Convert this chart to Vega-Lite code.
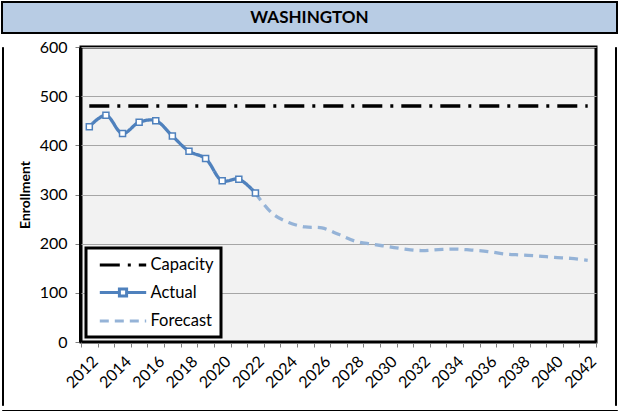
{
  "$schema": "https://vega.github.io/schema/vega-lite/v6.json",
  "background": "white",
  "padding": {"left": 1, "top": 1, "right": 0, "bottom": 0},
  "config": {"font": "Lato", "axis": {"labelFont": "Lato", "titleFont": "Lato"}, "legend": {"labelFont": "Lato"}},
  "spacing": 3,
  "resolve": {"legend": {"color": "independent", "strokeDash": "independent"}, "scale": {"color": "independent", "strokeDash": "independent"}},
  "vconcat": [
    {
      "width": 615,
      "height": 31,
      "view": {"fill": "#B8CCE4", "stroke": "black", "strokeWidth": 2},
      "data": {"values": [{"t": "WASHINGTON"}]},
      "mark": {"type": "text", "fontWeight": "bold", "fontSize": 17, "font": "Lato", "color": "black"},
      "encoding": {"text": {"field": "t", "type": "nominal"}}
    },
    {
      "columns": 3,
      "align": "none",
      "spacing": 13,
      "resolve": {"legend": {"color": "independent", "strokeDash": "independent"}, "scale": {"color": "independent", "strokeDash": "independent"}},
      "concat": [
        {
          "width": 1,
          "height": 358,
          "view": {"fill": "black", "stroke": "black", "strokeWidth": 1},
          "data": {"values": [{"k": 0}]},
          "mark": {"type": "point", "size": 1, "opacity": 0}
        },
        {
          "width": 515,
          "height": 295,
          "view": {"fill": "#F2F2F2", "stroke": "black", "strokeWidth": 3},
          "data": {"values": [
            {"year": "2012", "series": "Capacity", "value": 480},
            {"year": "2042", "series": "Capacity", "value": 480},
            {"year": "2012", "series": "Actual", "value": 438},
            {"year": "2013", "series": "Actual", "value": 461},
            {"year": "2014", "series": "Actual", "value": 424},
            {"year": "2015", "series": "Actual", "value": 447},
            {"year": "2016", "series": "Actual", "value": 450},
            {"year": "2017", "series": "Actual", "value": 419},
            {"year": "2018", "series": "Actual", "value": 388},
            {"year": "2019", "series": "Actual", "value": 373},
            {"year": "2020", "series": "Actual", "value": 328},
            {"year": "2021", "series": "Actual", "value": 331},
            {"year": "2022", "series": "Actual", "value": 303},
            {"year": "2022", "series": "Forecast", "value": 303},
            {"year": "2023", "series": "Forecast", "value": 262},
            {"year": "2024", "series": "Forecast", "value": 243},
            {"year": "2025", "series": "Forecast", "value": 234},
            {"year": "2026", "series": "Forecast", "value": 232},
            {"year": "2027", "series": "Forecast", "value": 219},
            {"year": "2028", "series": "Forecast", "value": 205},
            {"year": "2029", "series": "Forecast", "value": 199},
            {"year": "2030", "series": "Forecast", "value": 194},
            {"year": "2031", "series": "Forecast", "value": 189},
            {"year": "2032", "series": "Forecast", "value": 186},
            {"year": "2033", "series": "Forecast", "value": 188},
            {"year": "2034", "series": "Forecast", "value": 189},
            {"year": "2035", "series": "Forecast", "value": 187},
            {"year": "2036", "series": "Forecast", "value": 184},
            {"year": "2037", "series": "Forecast", "value": 179},
            {"year": "2038", "series": "Forecast", "value": 177},
            {"year": "2039", "series": "Forecast", "value": 175},
            {"year": "2040", "series": "Forecast", "value": 172},
            {"year": "2041", "series": "Forecast", "value": 170},
            {"year": "2042", "series": "Forecast", "value": 166}
          ]},
          "encoding": {
            "x": {
              "field": "year", "type": "ordinal", "scale": {"type": "band", "paddingInner": 0, "paddingOuter": 0},
              "axis": {
                "title": null, "labelAngle": -45, "tickBand": "extent",
                "labelExpr": "toNumber(datum.value) % 2 == 0 ? datum.value : ''",
                "labelFontSize": 16, "labelColor": "black", "tickColor": "#808080", "tickSize": 5,
                "domainColor": "black", "labelPadding": 6, "grid": false
              }
            },
            "y": {
              "field": "value", "type": "quantitative",
              "scale": {"domain": [0, 600], "nice": false},
              "axis": {
                "title": "Enrollment", "titleFontWeight": "bold", "titleFontSize": 14, "titleColor": "black",
                "values": [0, 100, 200, 300, 400, 500, 600],
                "labelFontSize": 16, "labelColor": "black", "labelPadding": 8,
                "tickColor": "#808080", "tickSize": 4, "domainColor": "black", "offset": 2,
                "grid": true, "gridColor": "#A6A6A6", "gridWidth": 1.2, "titlePadding": 6.5
              }
            }
          },
          "layer": [
            {
              "mark": {"type": "line", "interpolate": "catmull-rom", "strokeWidth": 3.3},
              "encoding": {
                "detail": {"field": "series"},
                "color": {
                  "field": "series", "type": "nominal",
                  "scale": {"domain": ["Capacity", "Actual", "Forecast"], "range": ["black", "#4F81BD", "#95B3D7"]},
                  "legend": {
                    "title": null, "orient": "bottom-left", "offset": 5,
                    "strokeColor": "black", "fillColor": "white", "padding": 7.5,
                    "symbolSize": 256, "symbolStrokeWidth": 3, "symbolOffset": 20,
                    "labelFontSize": 16.5, "labelColor": "black", "labelOffset": 18, "rowPadding": 8.5,
                    "encode": {
                      "legend": {"update": {"strokeWidth": {"value": 3}}},
                      "symbols": {"update": {
                        "shape": {"signal": "datum.value === 'Actual' ? 'M-2.9,0H-0.45M0.45,0H2.9M-0.45,-0.45H0.45V0.45H-0.45Z' : 'M-2.9,0H2.9'"},
                        "fill": {"value": "white"}
                      }}
                    }
                  }
                },
                "strokeDash": {
                  "field": "series", "type": "nominal",
                  "scale": {"domain": ["Capacity", "Actual", "Forecast"], "range": [[20, 8, 3, 8], [1, 0], [9, 6]]},
                  "legend": null
                }
              }
            },
            {
              "transform": [{"filter": "datum.series === 'Actual'"}],
              "mark": {"type": "point", "shape": "square", "filled": true, "fill": "white", "stroke": "#4F81BD", "strokeWidth": 1.5, "size": 36, "opacity": 1}
            }
          ]
        },
        {
          "width": 1,
          "height": 358,
          "view": {"fill": "black", "stroke": "black", "strokeWidth": 1},
          "data": {"values": [{"k": 0}]},
          "mark": {"type": "point", "size": 1, "opacity": 0}
        }
      ]
    },
    {
      "width": 615,
      "height": 1,
      "view": {"fill": "black", "stroke": "black", "strokeWidth": 1},
      "data": {"values": [{"k": 0}]},
      "mark": {"type": "point", "size": 1, "opacity": 0}
    }
  ]
}
